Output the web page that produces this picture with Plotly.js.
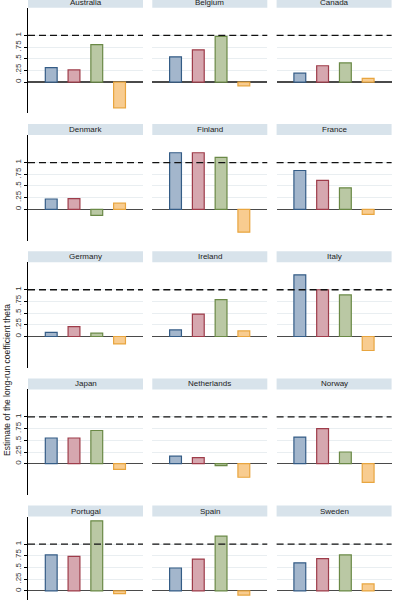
<!DOCTYPE html>
<html>
<head>
<meta charset="utf-8">
<script src="https://cdn.plot.ly/plotly-3.0.1.min.js"></script>
<style>
html,body{margin:0;padding:0;overflow:hidden;background:#fff;width:403px;height:600px;}
#chart{position:absolute;left:0;top:-10px;width:403px;height:640px;}
</style>
</head>
<body>
<div id="chart"></div>
<script>
// ---- data ----
const countries = ["Australia","Belgium","Canada","Denmark","Finland","France","Germany","Ireland","Italy","Japan","Netherlands","Norway","Portugal","Spain","Sweden"];
const seriesBlue   = [0.31, 0.54, 0.19, 0.22, 1.21, 0.83, 0.09, 0.14, 1.32, 0.55, 0.16, 0.57, 0.77, 0.49, 0.60];
const seriesRed    = [0.26, 0.69, 0.35, 0.23, 1.21, 0.62, 0.21, 0.48, 1.00, 0.55, 0.13, 0.75, 0.74, 0.68, 0.69];
const seriesGreen  = [0.80, 0.98, 0.41, -0.13, 1.11, 0.46, 0.07, 0.79, 0.89, 0.71, -0.04, 0.25, 1.50, 1.17, 0.77];
const seriesOrange = [-0.55, -0.08, 0.08, 0.13, -0.49, -0.11, -0.16, 0.12, -0.30, -0.12, -0.29, -0.40, -0.06, -0.09, 0.15];
const barPositions = [1, 2, 3, 4];
const tickVals = [0, 0.25, 0.5, 0.75, 1];
const tickText = ["0", ".25", ".5", ".75", "1"];
const refLine = 1;
const yTitle = "Estimate of the long-run coefficient theta";

// ---- styling ----
const fills = ["#a3b6cc", "#d6a7af", "#bac8a4", "#f8cc90"];
const lines = ["#345c86", "#9e3c4a", "#6a8946", "#e8a53f"];

const W = 403, H = 640, OFF = 10;
function py(ys){ return 1 - (ys + OFF) / H; }

const data = [];
const layout = {
  width: W, height: H,
  margin: {l:0, r:0, t:0, b:0},
  paper_bgcolor: "#ffffff",
  plot_bgcolor: "#ffffff",
  showlegend: false,
  shapes: [],
  annotations: [],
  font: {family: "Liberation Sans, Arial, sans-serif", size: 8, color: "#222"}
};

countries.forEach((name, i) => {
  const r = Math.floor(i / 3), c = i % 3;
  const stripTop = -3.2 + 127.2 * r;
  const plotTop = stripTop + 11;
  const plotBot = plotTop + 105.6;
  const left = 28 + 124.3 * c, right = left + 115;
  const n = i === 0 ? "" : String(i + 1);
  const vals = [seriesBlue[i], seriesRed[i], seriesGreen[i], seriesOrange[i]];

  data.push({
    type: "bar",
    x: barPositions,
    y: vals,
    xaxis: "x" + n, yaxis: "y" + n,
    width: 0.52,
    marker: {color: fills, line: {color: lines, width: 1.2}},
    hoverinfo: "skip"
  });

  layout["xaxis" + n] = {
    domain: [left / W, right / W],
    range: [-0.02, 5.03],
    showgrid: false, zeroline: false, showline: false,
    showticklabels: false, ticks: "", fixedrange: true
  };
  layout["yaxis" + n] = {
    domain: [py(plotBot), py(plotTop)],
    range: [-0.67, 1.59],
    tickvals: tickVals,
    ticktext: tickText,
    showticklabels: c === 0,
    ticks: c === 0 ? "outside" : "",
    ticklen: 3, tickcolor: "#000", tickwidth: 1,
    tickangle: -90,
    tickfont: {size: 8, color: "#333", family: "Liberation Sans, Arial, sans-serif"},
    showgrid: true, gridcolor: "#e9eef1", gridwidth: 1,
    zeroline: true, zerolinecolor: "#4a4a4a", zerolinewidth: 1.2,
    showline: c === 0, linecolor: "#000", linewidth: 1.3,
    fixedrange: true
  };

  // reference dashed line at 1
  layout.shapes.push({
    type: "line", xref: "x" + n + " domain", yref: "y" + n,
    x0: 0, x1: 1, y0: refLine, y1: refLine,
    line: {color: "#111", width: 1.3, dash: "7px,4px"},
    layer: "above"
  });
  // strip
  layout.shapes.push({
    type: "rect", xref: "paper", yref: "paper",
    x0: left / W, x1: right / W, y0: py(stripTop + 11), y1: py(stripTop),
    fillcolor: "#d8e3eb", line: {width: 0}
  });
  layout.annotations.push({
    text: name, xref: "paper", yref: "paper",
    x: (left + right) / 2 / W, y: py(stripTop + 5.5),
    xanchor: "center", yanchor: "middle", showarrow: false,
    font: {size: 8, color: "#222"}
  });
});

layout.annotations.push({
  text: yTitle, xref: "paper", yref: "paper",
  x: 7 / W, y: py(380), xanchor: "center", yanchor: "middle",
  textangle: -90, showarrow: false,
  font: {size: 8.5, color: "#222"}
});

Plotly.newPlot("chart", data, layout, {displayModeBar: false, staticPlot: true});
</script>
</body>
</html>
